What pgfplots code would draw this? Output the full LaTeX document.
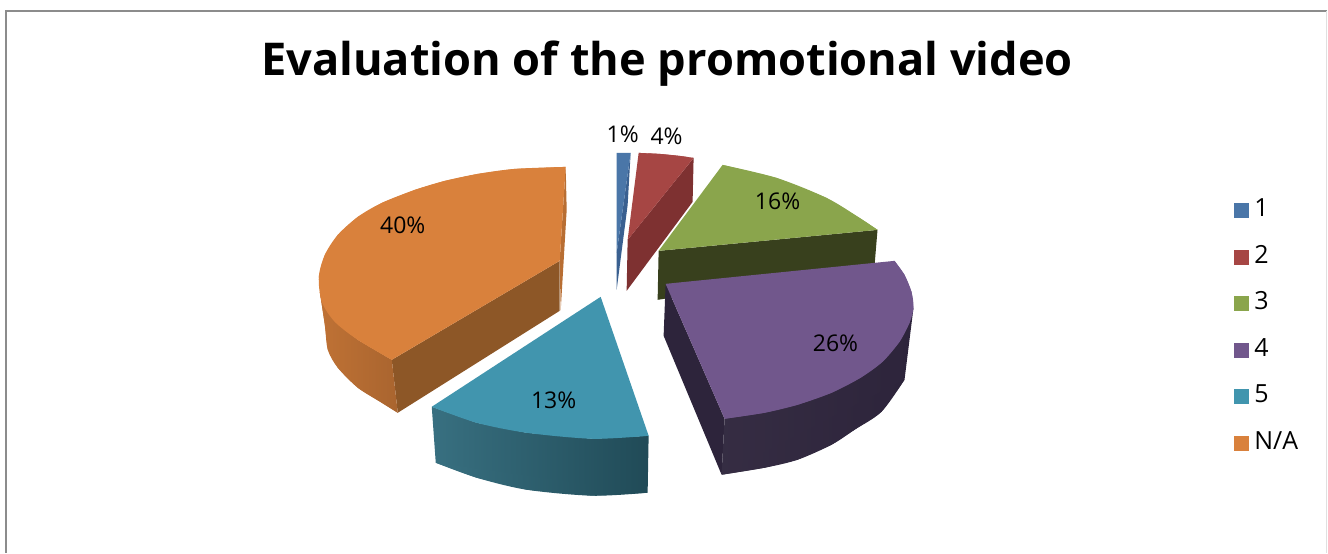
\documentclass[border=0pt]{standalone}
\usepackage{pgfplots}
\pgfplotsset{compat=1.18}
\usepackage{fontspec}
\setmainfont{Open Sans}
\definecolor{cA}{HTML}{4A76A8}
\definecolor{cAs}{HTML}{3A6090}
\definecolor{cB}{HTML}{A64644}
\definecolor{cBs}{HTML}{7E3131}
\definecolor{cC}{HTML}{8AA54C}
\definecolor{cCs}{HTML}{38401D}
\definecolor{cD}{HTML}{71578C}
\definecolor{cDs}{HTML}{2D243B}
\definecolor{cE}{HTML}{4195AE}
\definecolor{cF}{HTML}{D9813C}
\definecolor{cFs}{HTML}{8D5727}
\begin{document}
\begin{tikzpicture}
\begin{axis}[
  scale only axis,width=1328pt,height=553pt,
  xmin=0,xmax=1328,ymin=0,ymax=553,y dir=reverse,
  hide axis,clip=false,
  legend image code/.code={\fill[#1] (0pt,-7.5pt) rectangle (15pt,7.5pt);},
  legend cell align=left,
  legend style={at={(axis cs:1235,198)},anchor=north west,draw=none,fill=none,
    inner sep=0pt,outer sep=0pt,row sep=20.5pt,column sep=3pt,font=\fontsize{25}{25}\selectfont,
    nodes={text height=17pt,text depth=5pt,inner sep=2pt}},
]
% keeps the page at the full size
\addplot[forget plot,draw=none] coordinates {(0,0)(1328,553)};
% frame
\addplot[forget plot,color=black!45,line width=1.5pt] coordinates {(6,553)(6,11)(1328,11)};
\addplot[forget plot,color=black!12,line width=1pt] coordinates {(1327,11)(1327,553)};
% slice 1
\addplot[forget plot,draw=none,fill=cAs] coordinates {(631,153)(628,205)(617,290)(617,253)} --cycle;
\addplot[draw=none,fill=cA] coordinates {(617,153)(631,153)(617,253)} --cycle;
% slice 2
\addplot[forget plot,draw=none,fill=cBs] coordinates {(694,158)(693,202)(627,291)(628,240)} --cycle;
\addplot[draw=none,fill=cB] coordinates {(639,153)(660,154)(680,156)(694,158)(628,240)} --cycle;
\addplot[forget plot,smooth,draw=none,fill=cB] coordinates {(639,153)(660,154)(680,156)(694,158)} --cycle;
% slice 3
\addplot[forget plot,draw=none,fill=cCs] coordinates {(659,251)(878,230)(875,266)(658,300)} --cycle;
\addplot[draw=none,fill=cC] coordinates {(723,165)(777,178)(827,198)(860,218)(878,230)(659,251)} --cycle;
\addplot[forget plot,smooth,draw=none,fill=cC] coordinates {(723,165)(777,178)(827,198)(860,218)(878,230)} --cycle;
% slice 4
\addplot[forget plot,draw=none,fill=cDs] coordinates {(666,284)(725,419)(722,475)(664,336)} --cycle;
\addplot[forget plot,draw=none,left color=cDs!96!white,right color=cDs] coordinates {(725,419)(914,308)(905,380)(882,412)(855,430)(832,445)(798,460)(765,468)(722,475)} --cycle;
\addplot[forget plot,smooth,draw=none,left color=cDs!96!white,right color=cDs] coordinates {(905,380)(882,412)(855,430)(832,445)(798,460)(765,468)(722,475)} --cycle;
\addplot[draw=none,fill=cD] coordinates {(666,284)(895,261)(905,275)(912,292)(914,308)(910,323)(900,342)(883,362)(861,378)(832,393)(798,405)(765,413)(725,419)} --cycle;
\addplot[forget plot,smooth,draw=none,fill=cD] coordinates {(895,261)(905,275)(912,292)(914,308)(910,323)(900,342)(883,362)(861,378)(832,393)(798,405)(765,413)(725,419)} --cycle;
% slice 5
\addplot[forget plot,draw=none,left color=cE!70!black!95,right color=cE!50!black] coordinates {(432,407)(477,423)(527,433)(593,439)(649,436)(648,493)(593,496)(527,490)(477,478)(436,463)} --cycle;
\addplot[forget plot,smooth,draw=none,left color=cE!70!black!95,right color=cE!50!black] coordinates {(436,463)(477,478)(527,490)(593,496)(648,493)} --cycle;
\addplot[draw=none,fill=cE] coordinates {(601,297)(649,436)(593,439)(527,433)(477,423)(432,407)} --cycle;
\addplot[forget plot,smooth,draw=none,fill=cE] coordinates {(649,436)(593,439)(527,433)(477,423)(432,407)} --cycle;
% slice 6
\addplot[forget plot,draw=none,fill=cFs] coordinates {(392,360)(560,261)(560,311)(398,413)} --cycle;
\addplot[forget plot,draw=none,fill=cF!85!black] coordinates {(566,167)(567,210)(561,311)(560,261)} --cycle;
\addplot[forget plot,draw=none,left color=cF!88!black,right color=cF!78!black] coordinates {(320,292)(335,322)(358,340)(392,360)(398,413)(382,403)(358,388)(338,368)(328,350)(325,325)} --cycle;
\addplot[forget plot,smooth,draw=none,left color=cF!88!black,right color=cF!78!black] coordinates {(320,292)(325,325)(328,350)(338,368)(358,388)(382,403)(398,413)} --cycle;
\addplot[draw=none,fill=cF] coordinates {(566,167)(515,169)(478,174)(445,181)(415,190)(382,203)(358,217)(338,235)(325,255)(319,277)(322,302)(335,322)(358,340)(392,360)(560,261)} --cycle;
\addplot[forget plot,smooth,draw=none,fill=cF] coordinates {(566,167)(515,169)(478,174)(445,181)(415,190)(382,203)(358,217)(338,235)(325,255)(319,277)(322,302)(335,322)(358,340)(392,360)} --cycle;
\legend{1,2,3,4,5,N/A}
% labels
\node[font=\bfseries\fontsize{45.2}{46}\selectfont,anchor=base] at (axis cs:667.5,76) {Evaluation of the promotional video};
\begin{scope}[every node/.style={font=\fontsize{23}{23}\selectfont,anchor=base}]
\node at (axis cs:623,143) {1\%};
\node at (axis cs:667,145) {4\%};
\node at (axis cs:778,210) {16\%};
\node at (axis cs:836,352) {26\%};
\node at (axis cs:554,409) {13\%};
\node at (axis cs:403,234) {40\%};
\end{scope}
\end{axis}
\end{tikzpicture}
\end{document}
